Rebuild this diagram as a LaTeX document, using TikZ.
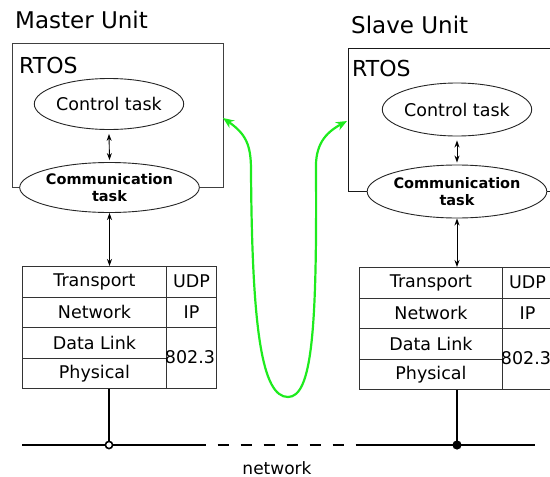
\documentclass[tikz,border=0pt]{standalone}
\usepackage{fontspec}
\setmainfont{DejaVu Sans}
\usetikzlibrary{arrows.meta,shapes.geometric}
\definecolor{linkgreen}{RGB}{30,235,30}

\begin{document}
\begin{tikzpicture}[x=1pt,y=-1pt,
  title/.style={anchor=base west, inner sep=0pt, font=\fontsize{23}{27}\selectfont},
  rtoslabel/.style={anchor=base west, inner sep=0pt, font=\fontsize{22}{26}\selectfont},
  rtosbox/.style={draw=black!75, line width=0.9pt},
  task/.style={ellipse, draw=black!85, fill=white, line width=0.9pt,
    minimum width=140pt, minimum height=51pt, inner sep=0pt, align=center},
  ctltext/.style={font=\fontsize{17.5}{21}\selectfont},
  comtext/.style={font=\fontsize{14.5}{17}\selectfont\bfseries},
  layer/.style={draw=black!80, line width=0.9pt, anchor=north west, inner sep=0pt,
    minimum width=144pt, minimum height=30.5pt, font=\fontsize{17.5}{21}\selectfont},
  proto/.style={draw=black!80, line width=0.9pt, anchor=north west, inner sep=0pt,
    minimum width=50pt, minimum height=30.5pt, font=\fontsize{17.5}{21}\selectfont},
  link/.style={line width=0.9pt, {Stealth[length=7pt,width=5pt]}-{Stealth[length=7pt,width=5pt]}},
  wire/.style={line width=2.6pt},
  greenlink/.style={draw=linkgreen, line width=2.2pt,
    {Stealth[length=11pt,width=9pt]}-{Stealth[length=11pt,width=9pt]}}
]
\clip (0,0) rectangle (550,477);

% ---------- master unit ----------
\node[title] (mtitle) at (15,28) {Master Unit};
\draw[rtosbox] (12,43) rectangle (223,187);
\node[rtoslabel] (mrtos) at (19,73) {RTOS};
\node[task, ctltext] (mctl) at (109,104) {Control task};
\node[task, comtext, minimum height=50pt] (mcom) at (109.5,187.5) {Communication\\task};

\node[layer] (mtrans) at (22,266)   {Transport};
\node[layer] (mnet)   at (22,296.5) {Network};
\node[layer] (mdata)  at (22,327)   {Data Link};
\node[layer] (mphys)  at (22,357.5) {Physical};
\node[proto] (mudp)   at (166,266)   {UDP};
\node[proto] (mip)    at (166,296.5) {IP};
\node[proto, minimum height=61pt] (meth) at (166,327) {};
\node[inner sep=0pt, font=\fontsize{17.5}{21}\selectfont] (methl) at (190,357.5) {802.3};

\draw[link] ([yshift=-4pt]mctl.south) -- ([yshift=2pt]mcom.north);
\draw[link] (mcom.south) -- (mcom.south |- mtrans.north);

% ---------- slave unit ----------
\node[title] (stitle) at (351,33) {Slave Unit};
\draw[rtosbox, draw=black!90] (348,48) rectangle (570,191);
\node[rtoslabel] (srtos) at (352,76) {RTOS};
\node[task, ctltext, minimum height=53pt] (sctl) at (457,109.5) {Control task};
\node[task, comtext, minimum height=53pt] (scom) at (457,191.5) {Communication\\task};

\node[layer, minimum width=143pt] (strans) at (359,267)   {Transport};
\node[layer, minimum width=143pt] (snet)   at (359,297.5) {Network};
\node[layer, minimum width=143pt] (sdata)  at (359,328)   {Data Link};
\node[layer, minimum width=143pt] (sphys)  at (359,358.5) {Physical};
\node[proto] (sudp)   at (502,267)   {UDP};
\node[proto] (sip)    at (502,297.5) {IP};
\node[proto, minimum height=61pt] (seth) at (502,328) {};
\node[inner sep=0pt, font=\fontsize{17.5}{21}\selectfont] (sethl) at (526,358.5) {802.3};

\draw[link] ([yshift=-4pt]sctl.south) -- ([yshift=2pt]scom.north);
\draw[link] (scom.south) -- (scom.south |- strans.north);

% ---------- network bus ----------
\coordinate (netL) at (22,445);
\coordinate (netA) at (206,445);
\coordinate (netB) at (357,445);
\coordinate (netR) at (535,445);
\coordinate (mjoin) at (109,445);
\coordinate (sjoin) at (457,445);

\draw[wire] (netL) -- (netA);
\draw[wire, dash pattern=on 11.5pt off 11.5pt, dash phase=11.5pt] (netA) -- (netB);
\draw[wire] (netB) -- (netR);
\draw[wire] (mjoin |- mphys.south) -- (mjoin);
\draw[wire] (sjoin |- sphys.south) -- (sjoin);
\fill[white] (mjoin) circle (3.6pt);
\draw[line width=1.6pt] (mjoin) circle (3.6pt);
\fill (sjoin) circle (4.6pt);
\node[inner sep=0pt, anchor=base, font=\fontsize{17}{20}\selectfont] (netlabel) at (277,474) {network};

% ---------- link between the two units ----------
\coordinate (mlink) at (223,118);
\coordinate (slink) at (347,121);
\draw[greenlink] (mlink) .. controls (246,134) and (251,145) .. (251,170)
  .. controls (252,330) and (262,397) .. (288,397)
  .. controls (312,397) and (317,330) .. (316,170)
  .. controls (315,145) and (325,133) .. (slink);
\end{tikzpicture}
\end{document}
